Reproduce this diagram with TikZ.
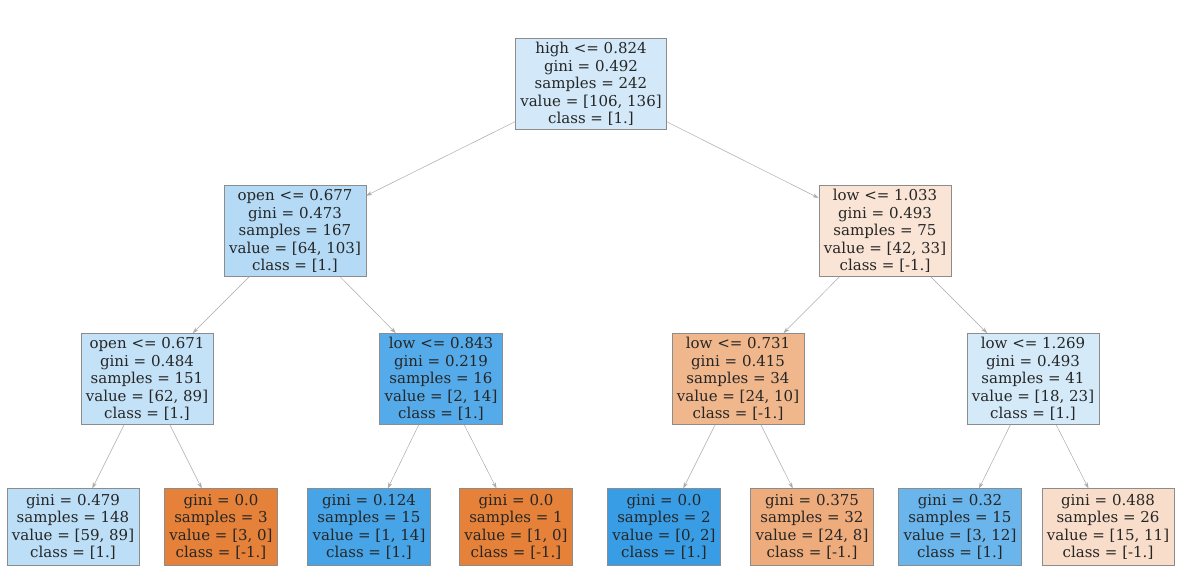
\documentclass[tikz,border=0pt]{standalone}
\usepackage{fontspec}
\setmainfont{DejaVu Serif}
\usetikzlibrary{arrows.meta}
\definecolor{c0}{RGB}{211,233,249}
\definecolor{c1}{RGB}{180,218,245}
\definecolor{c2}{RGB}{249,228,213}
\definecolor{c3}{RGB}{195,225,247}
\definecolor{c4}{RGB}{85,171,233}
\definecolor{c5}{RGB}{240,182,140}
\definecolor{c6}{RGB}{212,234,249}
\definecolor{c7}{RGB}{188,222,246}
\definecolor{c8}{RGB}{229,129,57}
\definecolor{c9}{RGB}{71,164,231}
\definecolor{c10}{RGB}{57,157,229}
\definecolor{c11}{RGB}{238,171,123}
\definecolor{c12}{RGB}{106,181,235}
\definecolor{c13}{RGB}{248,221,202}
\definecolor{edgegray}{RGB}{170,170,170}
\definecolor{boxgray}{RGB}{140,140,140}
\tikzset{
  tnode/.style={draw=boxgray, line width=0.5pt, rectangle, align=center,
    inner xsep=5pt, inner ysep=4pt, font=\fontsize{15}{17.5}\selectfont, text=black!85},
  leaf/.style={tnode, inner ysep=5.5pt},
  tedge/.style={draw=edgegray, line width=0.5pt, -{Stealth[length=6pt,width=4pt]}}
}
\begin{document}
\begin{tikzpicture}[x=1pt,y=-1pt]
\useasboundingbox (0,0) rectangle (1185,584);
\node[tnode, fill=c0] (n0) at (591,84) {high <= 0.824\\gini = 0.492\\samples = 242\\value = [106, 136]\\class = [1.]};
\node[tnode, fill=c1] (n1) at (295,231) {open <= 0.677\\gini = 0.473\\samples = 167\\value = [64, 103]\\class = [1.]};
\node[tnode, fill=c2] (n2) at (885,231) {low <= 1.033\\gini = 0.493\\samples = 75\\value = [42, 33]\\class = [-1.]};
\node[tnode, fill=c3] (n3) at (147,379) {open <= 0.671\\gini = 0.484\\samples = 151\\value = [62, 89]\\class = [1.]};
\node[tnode, fill=c4] (n4) at (441,379) {low <= 0.843\\gini = 0.219\\samples = 16\\value = [2, 14]\\class = [1.]};
\node[tnode, fill=c5] (n5) at (738,379) {low <= 0.731\\gini = 0.415\\samples = 34\\value = [24, 10]\\class = [-1.]};
\node[tnode, fill=c6] (n6) at (1033,379) {low <= 1.269\\gini = 0.493\\samples = 41\\value = [18, 23]\\class = [1.]};
\node[leaf, fill=c7] (l1) at (73,527) {gini = 0.479\\samples = 148\\value = [59, 89]\\class = [1.]};
\node[leaf, fill=c8] (l2) at (221,527) {gini = 0.0\\samples = 3\\value = [3, 0]\\class = [-1.]};
\node[leaf, fill=c9] (l3) at (369,527) {gini = 0.124\\samples = 15\\value = [1, 14]\\class = [1.]};
\node[leaf, fill=c8] (l4) at (516,527) {gini = 0.0\\samples = 1\\value = [1, 0]\\class = [-1.]};
\node[leaf, fill=c10] (l5) at (664,527) {gini = 0.0\\samples = 2\\value = [0, 2]\\class = [1.]};
\node[leaf, fill=c11] (l6) at (812,527) {gini = 0.375\\samples = 32\\value = [24, 8]\\class = [-1.]};
\node[leaf, fill=c12] (l7) at (960,527) {gini = 0.32\\samples = 15\\value = [3, 12]\\class = [1.]};
\node[leaf, fill=c13] (l8) at (1108,527) {gini = 0.488\\samples = 26\\value = [15, 11]\\class = [-1.]};
\draw[tedge] (n0) -- (n1);
\draw[tedge] (n0) -- (n2);
\draw[tedge] (n1) -- (n3);
\draw[tedge] (n1) -- (n4);
\draw[tedge] (n2) -- (n5);
\draw[tedge] (n2) -- (n6);
\draw[tedge] (n3) -- (l1);
\draw[tedge] (n3) -- (l2);
\draw[tedge] (n4) -- (l3);
\draw[tedge] (n4) -- (l4);
\draw[tedge] (n5) -- (l5);
\draw[tedge] (n5) -- (l6);
\draw[tedge] (n6) -- (l7);
\draw[tedge] (n6) -- (l8);
\end{tikzpicture}
\end{document}
